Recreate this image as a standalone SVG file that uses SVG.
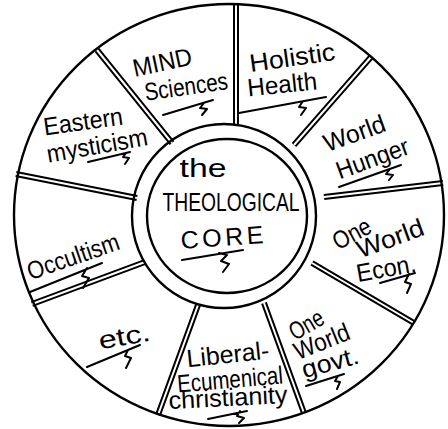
<svg xmlns="http://www.w3.org/2000/svg" width="448" height="429" viewBox="0 0 448 429">
<style>
.ink{fill:none;stroke:#000;stroke-width:2;stroke-linecap:round;stroke-linejoin:round}
.ring{fill:none;stroke:#000;stroke-width:2.4}
.sp{fill:none;stroke:#000;stroke-width:6;stroke-linecap:butt}
.spw{fill:none;stroke:#fff;stroke-width:2;stroke-linecap:butt}
.t{font-family:"Liberation Sans",Arial,sans-serif;font-size:25px;fill:#000;text-anchor:middle}
</style>
<rect width="448" height="429" fill="#fff"/>
<g id="connectors">
<g id="spokes">
<path class="sp" d="M172,143L97,50M236,124L236,4M294,145L371,57M324,197L443,183M312,263L414,323M264,303L304,413M198,305L158,415M145,262L32,304M137,198L16,174"/>
<path class="spw" d="M172,143L97,50M236,124L236,4M294,145L371,57M324,197L443,183M312,263L414,323M264,303L304,413M198,305L158,415M145,262L32,304M137,198L16,174"/>
</g>
</g>
<g id="wheel">
<ellipse class="ring" cx="229" cy="215" rx="215" ry="211"/>
<ellipse class="ring" cx="224" cy="216" rx="92" ry="92"/>
<ellipse class="ring" cx="227" cy="216" rx="80" ry="77"/>
</g>
<g id="core">
<text class="t" x="203" y="177" font-size="26" textLength="47" lengthAdjust="spacingAndGlyphs">the</text>
<text class="t" x="231" y="211" font-size="22" textLength="137" lengthAdjust="spacingAndGlyphs">THEOLOGICAL</text>
<text class="t" x="222" y="246" font-size="28" textLength="83" lengthAdjust="spacing" transform="rotate(-4 222 238)">CORE</text>
<path class="ink" d="M182,260L243,250M219,253l8,2l-6,6l8,3l-6,8"/>
</g>
<g id="mind-sciences">
<text class="t" x="162" y="71" font-size="27" textLength="60" lengthAdjust="spacingAndGlyphs" transform="rotate(-12 162 61)">MIND</text>
<text class="t" x="186" y="95" font-size="26" textLength="84" lengthAdjust="spacingAndGlyphs" transform="rotate(-8 186 86)">Sciences</text>
<path class="ink" d="M163,115L213,100M204,103l-4,5l7,1l-5,6"/>
</g>
<g id="holistic-health">
<text class="t" x="292" y="66" font-size="28" textLength="86" lengthAdjust="spacingAndGlyphs" transform="rotate(-8 292 56)">Holistic</text>
<text class="t" x="282" y="93" font-size="28" textLength="70" lengthAdjust="spacingAndGlyphs" transform="rotate(-6 282 83)">Health</text>
<path class="ink" d="M239,113L326,97M303,101l-4,6l7,1l-5,7"/>
</g>
<g id="world-hunger">
<text class="t" x="354" y="142" font-size="27" textLength="64" lengthAdjust="spacingAndGlyphs" transform="rotate(-20 354 132)">World</text>
<text class="t" x="372" y="167" font-size="27" textLength="76" lengthAdjust="spacingAndGlyphs" transform="rotate(-20 372 157)">Hunger</text>
<path class="ink" d="M339,187L401,165M390,169l-4,5l7,1l-4,5"/>
</g>
<g id="one-world-econ">
<text class="t" x="352" y="242" font-size="23" textLength="40" lengthAdjust="spacingAndGlyphs" transform="rotate(-28 352 234)">One</text>
<text class="t" x="390" y="247" font-size="25" textLength="70" lengthAdjust="spacingAndGlyphs" transform="rotate(-20 390 238)">World</text>
<text class="t" x="386" y="277" font-size="25" textLength="60" lengthAdjust="spacingAndGlyphs" transform="rotate(-10 386 268)">Econ.</text>
<path class="ink" d="M380,283L415,273M409,274l-4,8l6,2l-4,9"/>
</g>
<g id="one-world-govt">
<text class="t" x="307" y="333" font-size="22" textLength="36" lengthAdjust="spacingAndGlyphs" transform="rotate(-30 307 326)">One</text>
<text class="t" x="322" y="350" font-size="23" textLength="58" lengthAdjust="spacingAndGlyphs" transform="rotate(-22 322 342)">World</text>
<text class="t" x="330" y="371" font-size="25" textLength="58" lengthAdjust="spacingAndGlyphs" transform="rotate(-15 330 362)">govt.</text>
<path class="ink" d="M306,386L344,374M338,376l-3,5l5,1l-3,7"/>
</g>
<g id="liberal-ecumenical">
<text class="t" x="228" y="363" font-size="24" textLength="83" lengthAdjust="spacingAndGlyphs" transform="rotate(-6 228 355)">Liberal-</text>
<text class="t" x="230" y="388" font-size="22" textLength="106" lengthAdjust="spacingAndGlyphs" transform="rotate(-5 230 380)">Ecumenical</text>
<text class="t" x="228" y="406" font-size="22" textLength="119" lengthAdjust="spacingAndGlyphs" transform="rotate(-3 228 398)">christianity</text>
<path class="ink" d="M208,419L247,411M240,411l-3,5l7,2l-5,5"/>
</g>
<g id="etc">
<text class="t" x="124" y="345" font-size="29" textLength="52" lengthAdjust="spacingAndGlyphs" transform="rotate(-10 124 335)">etc.</text>
<path class="ink" d="M87,367L140,345M128,350l-3,6l6,2l-5,10"/>
</g>
<g id="occultism">
<text class="t" x="73" y="265" font-size="25" textLength="96" lengthAdjust="spacingAndGlyphs" transform="rotate(-19 73 256)">Occultism</text>
<path class="ink" d="M30,292L102,263M87,268l-5,8l7,2l-6,10"/>
</g>
<g id="eastern-mysticism">
<text class="t" x="83" y="130" font-size="25" textLength="80" lengthAdjust="spacingAndGlyphs" transform="rotate(-8 83 121)">Eastern</text>
<text class="t" x="97" y="154" font-size="25" textLength="102" lengthAdjust="spacingAndGlyphs" transform="rotate(-10 97 145)">mysticism</text>
<path class="ink" d="M88,162L130,152M126,153l-3,4l6,1l-4,6"/>
</g>
</svg>
